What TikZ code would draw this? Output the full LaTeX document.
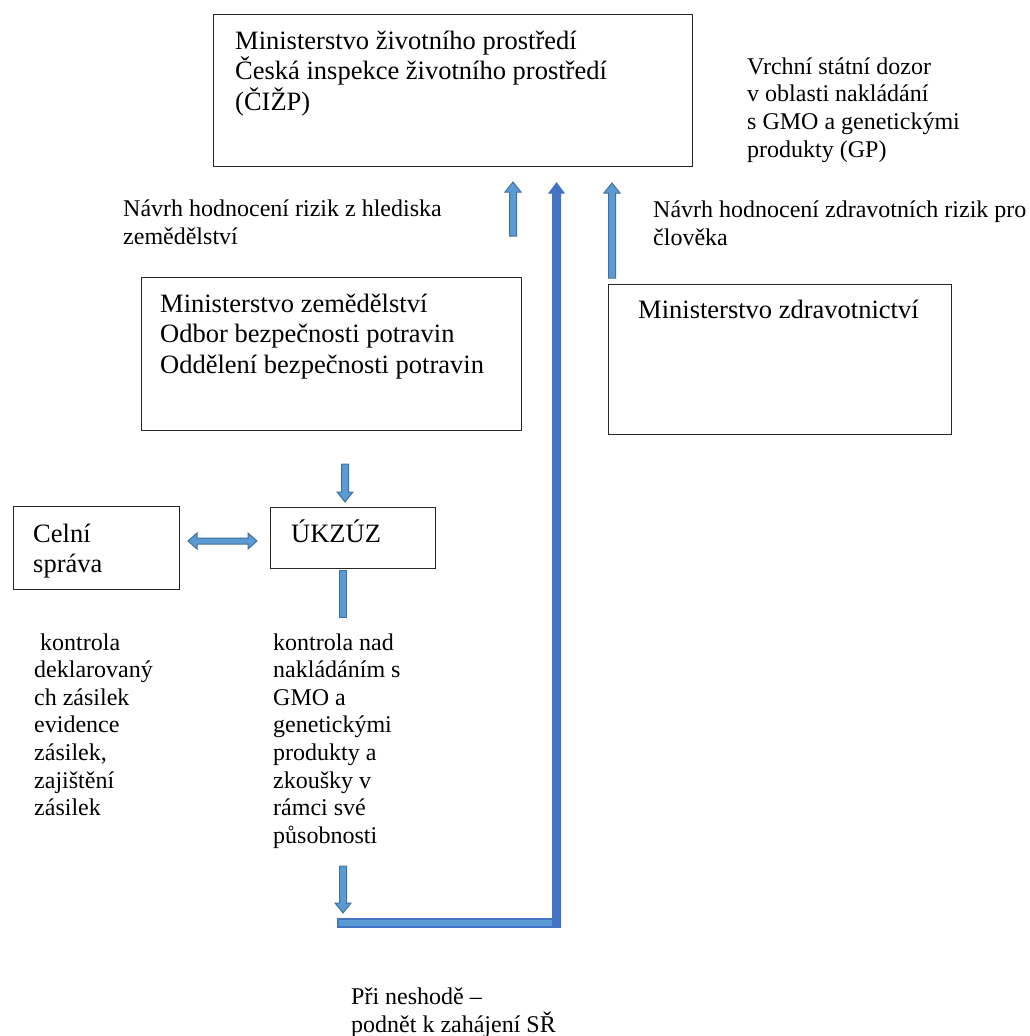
\documentclass[tikz,border=0pt]{standalone}
\usepackage{fontspec}
\setmainfont{Liberation Serif}
\definecolor{arrfill}{HTML}{5B9BD5}
\definecolor{arredge}{HTML}{41719C}
\definecolor{bigblue}{HTML}{4472C4}
% block arrow helpers: style, position, start, tip
\newcommand{\blkUp}[4]{\draw[#1] ({#2-3.5},#3) -- ({#2-3.5},{#4+10}) -- ({#2-8},{#4+10}) -- (#2,#4) -- ({#2+8},{#4+10}) -- ({#2+3.5},{#4+10}) -- ({#2+3.5},#3) -- cycle;}
\newcommand{\blkDown}[4]{\draw[#1] ({#2-3.5},#3) -- ({#2-3.5},{#4-10}) -- ({#2-8},{#4-10}) -- (#2,#4) -- ({#2+8},{#4-10}) -- ({#2+3.5},{#4-10}) -- ({#2+3.5},#3) -- cycle;}
\newcommand{\blkLR}[4]{\draw[#1] (#3,#2) -- ({#3+9},{#2-8}) -- ({#3+9},{#2-3}) -- ({#4-9},{#2-3}) -- ({#4-9},{#2-8}) -- (#4,#2) -- ({#4-9},{#2+8}) -- ({#4-9},{#2+3}) -- ({#3+9},{#2+3}) -- ({#3+9},{#2+8}) -- cycle;}
\begin{document}
\begin{tikzpicture}[x=1pt,y=-1pt,
  box/.style={draw=black!85, line width=1.3pt, inner sep=0pt, anchor=north west},
  bigtext/.style={font=\fontsize{26.5}{30.5}\selectfont, anchor=base west, align=left, inner sep=0pt},
  smalltext/.style={font=\fontsize{24}{27.6}\selectfont, anchor=base west, align=left, inner sep=0pt},
  barrow/.style={fill=arrfill, draw=arredge, line width=1pt, line join=miter},
  bigv/.style={fill=bigblue, draw=bigblue, line width=1pt, line join=miter},
  bigh/.style={fill=arrfill, draw=bigblue, line width=1.5pt}
]
\useasboundingbox[fill=white] (0,0) rectangle (1030,1036);

% boxes (multi-line texts are placed by the baseline of their last line)
\node[box, minimum width=479pt, minimum height=152pt] (mzp) at (213,14) {};
\node[bigtext] (mzpT) at (235,110) {Ministerstvo životního prostředí\\Česká inspekce životního prostředí\\(ČIŽP)};

\node[smalltext] (gmo) at (747,157) {Vrchní státní dozor\\v oblasti nakládání\\s GMO a genetickými\\produkty (GP)};

\node[smalltext] (nzem) at (123,244) {Návrh hodnocení rizik z hlediska\\zemědělství};
\node[smalltext] (nzdr) at (653,245) {Návrh hodnocení zdravotních rizik pro\\člověka};

\node[box, minimum width=380pt, minimum height=153pt] (mze) at (141,277) {};
\node[bigtext] (mzeT) at (160,373) {Ministerstvo zemědělství\\Odbor bezpečnosti potravin\\Oddělení bezpečnosti potravin};

\node[box, minimum width=343pt, minimum height=150pt] (mzd) at (608,284) {};
\node[bigtext] (mzdT) at (638,318) {Ministerstvo zdravotnictví};

\node[box, minimum width=166pt, minimum height=83pt] (cs) at (13,506) {};
\node[bigtext] (csT) at (33,572.5) {Celní\\správa};

\node[box, minimum width=165pt, minimum height=61pt] (uk) at (270,507) {};
\node[bigtext] (ukT) at (291,542) {ÚKZÚZ};

\node[smalltext] (csD) at (34,815.6) {\ kontrola\\deklarovaný\\ch zásilek\\evidence\\zásilek,\\zajištění\\zásilek};
\node[smalltext] (ukD) at (273,843.2) {kontrola nad\\nakládáním s\\GMO a\\genetickými\\produkty a\\zkoušky v\\rámci své\\působnosti};

\node[smalltext] (sr) at (351,1032) {Při neshodě –\\podnět k zahájení SŘ};

% block arrows
\blkUp{barrow}{513}{236}{182}
\blkUp{barrow}{612}{278}{183}
\blkDown{barrow}{345}{464}{502}
\draw[barrow] (339.5,570) rectangle (346.5,617);
\blkLR{barrow}{541}{188}{257}
\blkDown{barrow}{343}{866}{913}

% big L-shaped connector
\draw[bigh] (338,919) rectangle (560,927);
\draw[bigv] (552.5,927) -- (552.5,193) -- (549,193) -- (556.5,183) -- (564,193) -- (560.5,193) -- (560.5,927) -- cycle;
\end{tikzpicture}
\end{document}
